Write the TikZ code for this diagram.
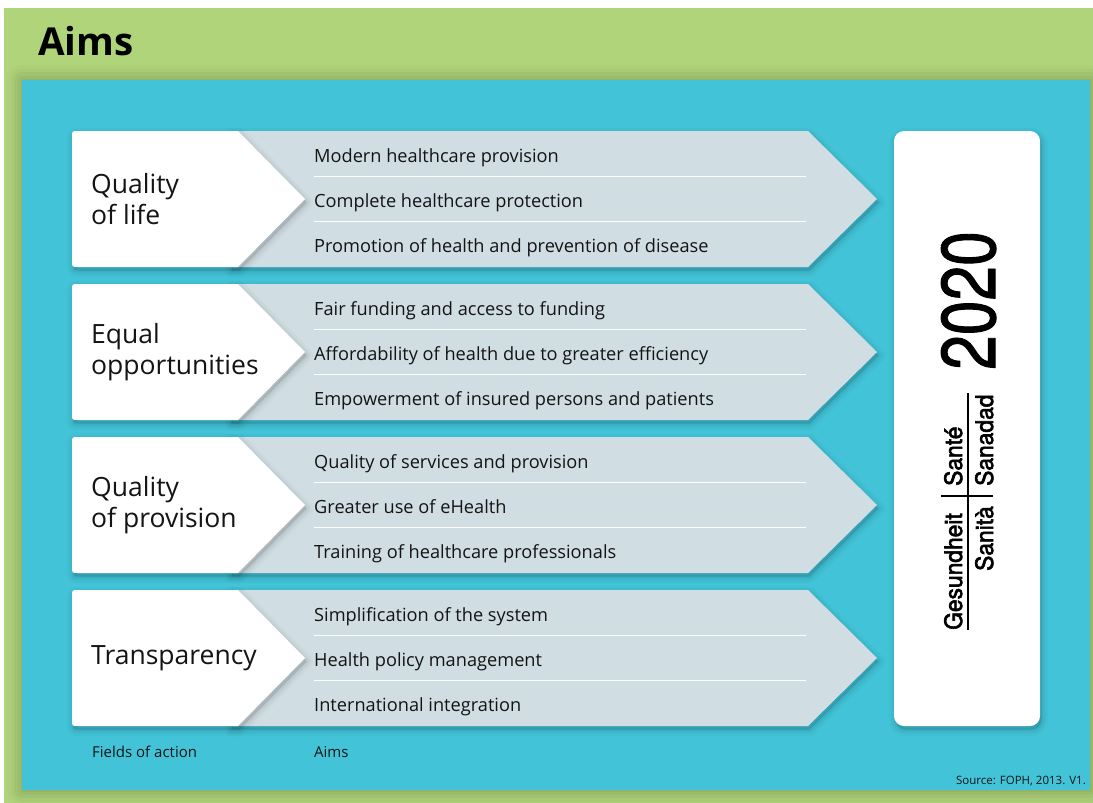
\documentclass[tikz,border=0pt]{standalone}
\usepackage{fontspec}
\setmainfont{Open Sans}
\newfontfamily\signfont[FakeBold=2.5]{TeX Gyre Heros}
\newfontfamily\yearfont[FakeBold=1.5]{TeX Gyre Heros}
\usetikzlibrary{calc}

\definecolor{leafgreen}{RGB}{176,212,122}
\definecolor{panelcyan}{RGB}{66,195,216}
\definecolor{aimgrey}{RGB}{208,222,228}
\definecolor{inkblack}{RGB}{20,20,20}

\tikzset{
  softshadow/.style={
    preaction={fill=black, draw=black, opacity=0.025, line width=13pt, line join=round,
      transform canvas={shift={(1.5pt,-3.5pt)}}},
    preaction={fill=black, draw=black, opacity=0.035, line width=8pt, line join=round,
      transform canvas={shift={(1.5pt,-3.5pt)}}},
    preaction={fill=black, draw=black, opacity=0.045, line width=3.5pt, line join=round,
      transform canvas={shift={(1.5pt,-3.5pt)}}}
  },
  panelshadow/.style={
    preaction={fill=black, draw=black, opacity=0.02, line width=30pt, line join=round},
    preaction={fill=black, draw=black, opacity=0.025, line width=23pt, line join=round},
    preaction={fill=black, draw=black, opacity=0.03, line width=16pt, line join=round},
    preaction={fill=black, draw=black, opacity=0.035, line width=9pt, line join=round},
    preaction={fill=black, draw=black, opacity=0.04, line width=3pt, line join=round}
  },
  itemtext/.style={anchor=base west, inner sep=0, text=inkblack,
    font=\fontsize{18.2}{22}\selectfont},
  fieldtext/.style={anchor=west, inner sep=0, align=left, text=inkblack,
    font=\fontsize{26.5}{30.5}\selectfont},
  foottext/.style={anchor=base west, inner sep=0, text=inkblack,
    font=\fontsize{15}{18}\selectfont},
  signtext/.style={inner sep=0, rotate=90, anchor=base west, text=black},
  rulestyle/.style={draw=white, line width=1.2pt}
}

\begin{document}
\begin{tikzpicture}[x=1pt,y=-1pt]
  \useasboundingbox (0,0) rectangle (1093,803);
  \fill[white] (0,0) rectangle (1093,803);

  % green frame and heading
  \fill[leafgreen] (4,8) rectangle (1093,803);
  \node[anchor=base west, inner sep=0, text=black,
        font=\fontsize{38.5}{44}\selectfont\bfseries] (title) at (38,55) {Aims};

  % cyan panel
  \begin{scope}
    \clip (4,8) rectangle (1093,803);
    \path[fill=panelcyan, panelshadow] (22,80) rectangle (1090,790);
  \end{scope}

  % the four fields of action with their aims
  \foreach \i/\lab/\ia/\ib/\ic in {
      0/{Quality\\of life}/{Modern healthcare provision}/{Complete healthcare protection}/{Promotion of health and prevention of disease},
      1/{Equal\\opportunities}/{Fair funding and access to funding}/{Affordability of health due to greater efficiency}/{Empowerment of insured persons and patients},
      2/{Quality\\of provision}/{Quality of services and provision}/{Greater use of eHealth}/{Training of healthcare professionals},
      3/{Transparency}/{Simplification of the system}/{Health policy management}/{International integration}} {
    \pgfmathsetmacro{\T}{131+153*\i}
    \pgfmathsetmacro{\B}{\T+136}
    \pgfmathsetmacro{\M}{\T+68}
    % grey arrow carrying the aims
    \path[fill=aimgrey, softshadow]
      (230,\T) -- (808,\T) -- (877,\M) -- (808,\B) -- (230,\B) -- cycle;
    % separating rules
    \draw[rulestyle] (314,\T+45.3) -- (806,\T+45.3);
    \draw[rulestyle] (314,\T+90.7) -- (806,\T+90.7);
    % white field tab
    \path[fill=white, softshadow]
      (238,\T) -- (305,\M) -- (238,\B) -- (78,\B) .. controls (72,\B) .. (72,\B-6)
      -- (72,\T+6) .. controls (72,\T) .. (78,\T) -- cycle;
    \node[fieldtext] (field\i) at (91,\M) {\lab};
    \node[itemtext] (aim\i a) at (314,\T+31.3) {\ia};
    \node[itemtext] (aim\i b) at (314,\T+76.6) {\ib};
    \node[itemtext] (aim\i c) at (314,\T+121.9) {\ic};
  }

  % column captions and source
  \node[foottext] (capfields) at (92,757) {Fields of action};
  \node[foottext] (capaims) at (314,757) {Aims};
  \node[anchor=base east, inner sep=0, text=inkblack,
        font=\fontsize{11.5}{14}\selectfont] (source) at (1086,784) {Source: FOPH, 2013. V1.};

  % target box with the 2020 signet
  \path[fill=white, softshadow, rounded corners=10pt] (894,131) rectangle (1040,726);
  \node[signtext, font=\yearfont\fontsize{76}{80}\selectfont] (year) at (995,370)
    {\scalebox{0.82}[1]{2020}};
  \node[signtext, font=\signfont\fontsize{24}{28}\selectfont] (de) at (962,630)
    {\scalebox{0.95}[1]{Gesundheit}};
  \node[signtext, font=\signfont\fontsize{24}{28}\selectfont] (fr) at (962,486)
    {\scalebox{0.95}[1]{Santé}};
  \node[signtext, font=\signfont\fontsize{24}{28}\selectfont, anchor=base east] (it) at (993,506)
    {\scalebox{0.95}[1]{Sanità}};
  \node[signtext, font=\signfont\fontsize{24}{28}\selectfont] (es) at (993,486)
    {\scalebox{0.95}[1]{Sanadad}};
  \draw[black, line width=1.4pt] (968,393) -- (968,630);
  \draw[black, line width=1.4pt] (941,496) -- (967,496);
  \draw[black, line width=1.4pt] (969,496) -- (993,496);
\end{tikzpicture}
\end{document}
